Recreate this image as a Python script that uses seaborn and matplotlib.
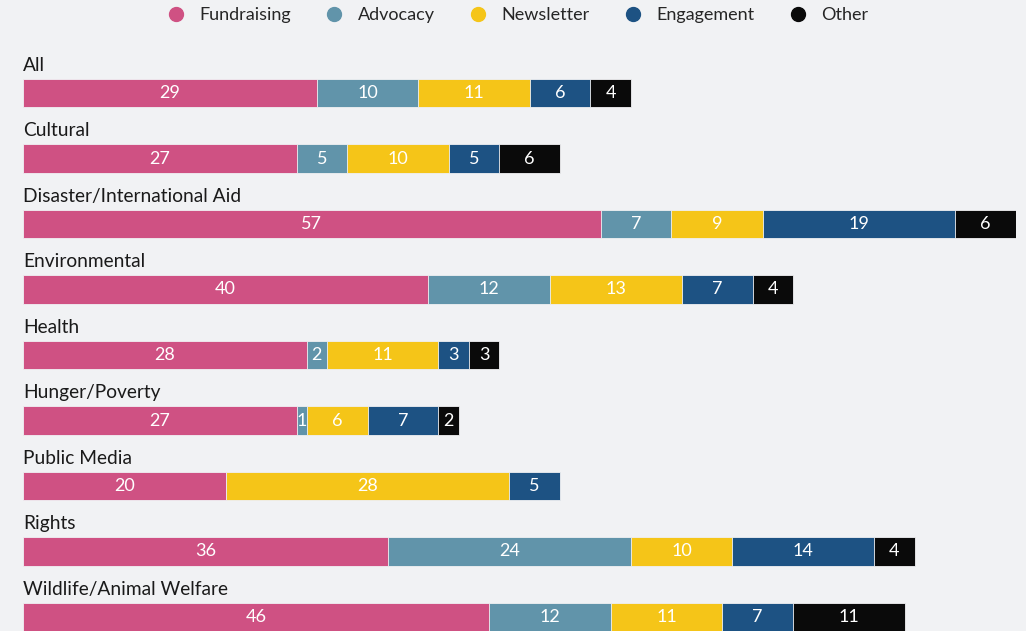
import numpy as np
import pandas as pd
import matplotlib.pyplot as plt
import seaborn as sns

categories = ['All', 'Cultural', 'Disaster/International Aid', 'Environmental', 'Health',
              'Hunger/Poverty', 'Public Media', 'Rights', 'Wildlife/Animal Welfare']
series = ['Fundraising', 'Advocacy', 'Newsletter', 'Engagement', 'Other']
fundraising = [29, 27, 57, 40, 28, 27, 20, 36, 46]
advocacy = [10, 5, 7, 12, 2, 1, 0, 24, 12]
newsletter = [11, 10, 9, 13, 11, 6, 28, 10, 11]
engagement = [6, 5, 19, 7, 3, 7, 5, 14, 7]
other = [4, 6, 6, 4, 3, 2, 0, 4, 11]
colors = ['#cf5183', '#6194aa', '#f5c518', '#1d5283', '#0a0a0a']

bg = '#f1f2f4'
sns.set_theme(style='white')
plt.rcParams['font.family'] = ['Lato', 'DejaVu Sans']

vals = np.array([fundraising, advocacy, newsletter, engagement, other])
cum = vals.cumsum(axis=0)

fig = plt.figure(figsize=(10.26, 6.31), dpi=100, facecolor=bg)
ax = fig.add_axes([23 / 1026, 0, (1016 - 23) / 1026, 1 - 60.25 / 631])
ax.set_facecolor(bg)

# draw cumulative totals from the outside in so the segments stack
for k in range(len(series) - 1, -1, -1):
    df = pd.DataFrame({'cat': categories, 'val': cum[k]})
    sns.barplot(data=df, x='val', y='cat', orient='h', color=colors[k],
                width=0.43, saturation=1, ax=ax, edgecolor=bg, linewidth=0.6)

for k in range(len(series)):
    for i in range(len(categories)):
        v = vals[k, i]
        if v == 0:
            continue
        center = cum[k, i] - v / 2
        ax.text(center, i, str(v), ha='center', va='center', color='white', fontsize=13)

for i, c in enumerate(categories):
    ax.text(0, i - 0.215 - 0.08, c, ha='left', va='bottom', fontsize=13.8, color='#1a1a1a')

ax.set_xlim(0, 98)
ax.set_ylim(8 + 14 / 65.5, -0.5)
ax.axis('off')

handles = [plt.Line2D([], [], marker='o', linestyle='', markersize=10, color=col) for col in colors]
fig.legend(handles, series, loc='center', bbox_to_anchor=(0.5, 1 - 15 / 631), ncol=5,
           frameon=False, fontsize=13, handletextpad=0.3, columnspacing=1.4)

fig.savefig('out.png', dpi=100, facecolor=bg)
